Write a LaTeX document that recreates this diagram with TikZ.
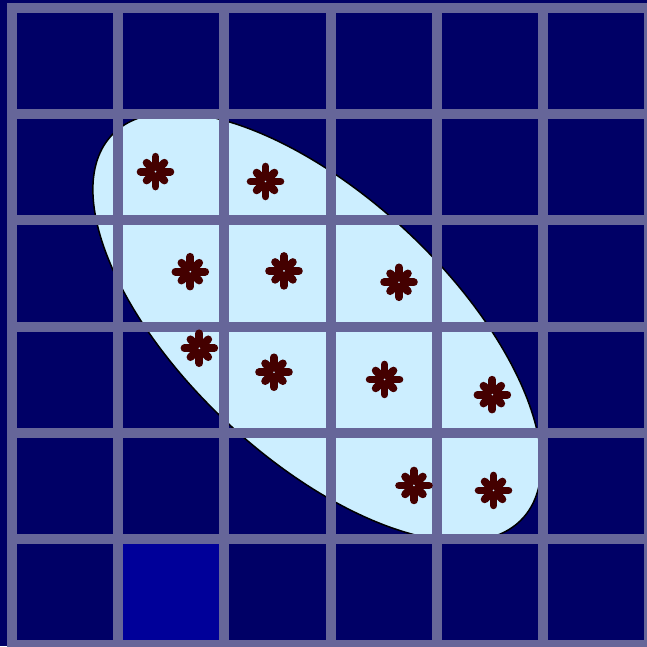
\documentclass[tikz,border=0pt]{standalone}
\usepackage{tikz}

\definecolor{bgnavy}{HTML}{000066}
\definecolor{cellblue}{HTML}{000099}
\definecolor{gridgray}{HTML}{666699}
\definecolor{ellfill}{HTML}{CCEEFF}
\definecolor{dotred}{HTML}{440000}

\begin{document}
\begin{tikzpicture}[
  gridline/.style={draw=gridgray,line width=2.7pt,line cap=rect},
  arm/.style={draw=dotred,line width=2.1pt,line cap=round},
  flake/.pic={
    \foreach \a/\r in {0/0.14,90/0.14,45/0.118,135/0.118}
      \draw[arm] (\a:-\r) -- (\a:\r);
    \fill[ellfill] (0,0) circle (0.009);
  }]
\useasboundingbox (-0.113,-0.008) rectangle (5.979,6.075);
\fill[bgnavy] (-0.113,-0.008) rectangle (5.979,6.075);
\fill[cellblue] (1,0) rectangle (2,1);

% cluster region, cut at the grid
\begin{scope}
  \clip (0,0) rectangle (5,5);
  \draw[fill=ellfill,line width=0.4pt] (2.872,2.996) ellipse [x radius=2.645,y radius=1.235,rotate=-43];
\end{scope}

\draw[gridline] (0,0) grid (6,6);

\foreach \x/\y in {1.351/4.459, 2.387/4.366, 1.679/3.517, 2.561/3.524,
  3.644/3.417, 1.764/2.796, 2.467/2.570, 3.508/2.502, 4.523/2.359,
  3.785/1.504, 4.534/1.457}
  \pic at (\x,\y) {flake};
\end{tikzpicture}
\end{document}
